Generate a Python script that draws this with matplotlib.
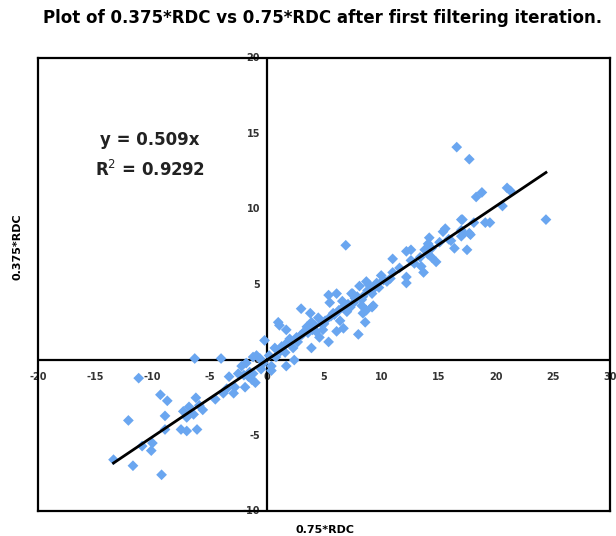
import matplotlib.pyplot as plt

# data (0.75*RDC vs 0.375*RDC)
x_rdc = [-13.4, -11.7, -9.2, -12.1, -10.9, -10.0, -10.1, -11.2, -9.3, -8.7,
         -8.9, -8.9, -7.5, -7.0, -6.1, -6.2, -6.8, -6.4, -7.0, -5.6,
         -6.3, -4.0, -4.5, -3.8, -3.3, -2.9, -2.8, -2.5, -2.2, -1.9,
         -1.6, -1.3, -1.0, -0.9, -0.6, -1.5, -1.8, -0.2, -7.3, -5.9,
         -1.2, -0.5, 0.4, 0.7, 0.8, 1.7, 1.6, 2.4, 1.7, -1.2,
         1.0, 1.1, 1.7, 3.0, 3.8, 5.4, 6.1, 5.5, 7.4, 8.1,
         8.9, 9.3, 9.6, 8.3, 8.7, 8.4, 9.2, 8.6, 8.0, 6.7,
         6.1, 5.4, 4.6, 3.9, 3.3, 4.2, 5.1, 5.9, 7.0, 2.7,
         2.3, 4.3, 4.9, 6.4, 7.3, 7.7, 3.9, 3.5, 0.4, 1.2,
         6.9, 11.0, 12.2, 12.6, 12.6, 13.5, 13.7, 12.2, 12.2, 11.0,
         10.0, 14.2, 14.1, 14.4, 13.8, 14.1, 14.8, 15.4, 15.6, 15.1,
         16.1, 16.4, 17.0, 17.2, 17.5, 17.7, 18.3, 8.7, 10.5, 7.5,
         8.4, 9.2, 9.3, 8.3, 13.4, 14.4, 16.6, 17.7, 18.8, 21.0,
         21.3, 20.6, 24.4, 19.1, 19.5, 18.1, 17.1, 17.0, 17.8, 17.0,
         2.0, 2.9, 4.5, 5.8, 6.6, 9.8, 10.8, 11.6, 12.9, 15.9,
         3.1, 4.0, 5.0, 6.3, 7.1, 7.9, 8.8, 9.5, 10.2, 0.2,
         -0.3, -2.0, -3.5, 1.3, 2.6, 3.6, 4.8, 5.6, 6.8, 7.6]
y_rdc = [-6.6, -7.0, -7.6, -4.0, -5.7, -5.5, -6.0, -1.2, -2.3, -2.7,
         -3.7, -4.6, -4.6, -4.7, -4.6, -2.5, -3.1, -3.6, -3.8, -3.3,
         0.1, 0.1, -2.6, -2.2, -1.1, -2.2, -1.8, -0.9, -0.4, -1.8,
         -1.1, -1.3, -1.5, 0.3, 0.1, -0.8, -0.2, 1.3, -3.4, -3.0,
         -0.9, -0.6, -0.4, 0.8, 0.2, 1.1, 0.5, 0.0, -0.4, 0.2,
         2.5, 2.3, 2.0, 3.4, 3.1, 4.3, 4.4, 3.8, 4.4, 4.9,
         5.0, 4.7, 5.1, 4.0, 3.3, 3.1, 3.5, 2.5, 1.7, 2.1,
         1.9, 1.2, 1.5, 0.8, 1.9, 2.3, 2.6, 3.0, 3.2, 1.2,
         0.8, 1.9, 2.0, 2.6, 3.5, 4.1, 2.5, 2.2, -0.7, 0.6,
         7.6, 6.7, 7.2, 7.3, 6.6, 6.2, 5.8, 5.5, 5.1, 5.8,
         5.6, 8.1, 7.7, 7.4, 7.3, 7.0, 6.5, 8.5, 8.7, 7.8,
         7.9, 7.4, 9.3, 8.4, 7.3, 8.4, 10.8, 5.2, 5.2, 4.4,
         4.2, 4.4, 3.6, 3.6, 6.8, 6.8, 14.1, 13.3, 11.1, 11.4,
         11.2, 10.2, 9.3, 9.1, 9.1, 9.1, 9.3, 8.6, 8.3, 8.2,
         1.4, 1.6, 2.8, 3.1, 3.9, 4.8, 5.4, 6.1, 6.4, 8.0,
         1.7, 2.0, 2.4, 3.3, 3.7, 4.2, 4.6, 4.9, 5.3, 0.3,
         -0.2, -1.0, -1.9, 0.9, 1.5, 1.8, 2.4, 2.9, 3.6, 3.8]

slope = 0.509
eq_text = "y = 0.509x"
r2_text = "R$^2$ = 0.9292"
x_ticks = [-20, -15, -10, -5, 0, 5, 10, 15, 20, 25, 30]
y_ticks = [-10, -5, 0, 5, 10, 15, 20]

fig = plt.figure(figsize=(6.16, 5.36), dpi=100)
ax = fig.add_axes([0.0617, 0.0466, 0.9286, 0.8451])
ax.set_xlim(-20, 30)
ax.set_ylim(-10, 20)
ax.set_xticks([])
ax.set_yticks([])
for s in ax.spines.values():
    s.set_linewidth(1.6)
    s.set_zorder(5)

# axes crossing at origin
ax.axhline(0, color="black", lw=1.6, zorder=2)
ax.axvline(0, color="black", lw=1.6, zorder=2)

# tick labels next to the crossing axes
for t in x_ticks:
    ax.text(t, -1.15, str(t), ha="center", va="center", fontsize=7,
            fontweight="bold", color="#333333", zorder=1)
for t in y_ticks:
    ax.text(-0.6, t, str(t), ha="right", va="center", fontsize=7,
            fontweight="bold", color="#333333", zorder=1)

ax.scatter(x_rdc, y_rdc, marker="D", s=30, color="#6aa6f0", edgecolors="none",
           zorder=3)

# trendline over the data range
x0, x1 = min(x_rdc), max(x_rdc)
ax.plot([x0, x1], [slope * x0, slope * x1], color="black", lw=2, zorder=4)

ax.text(-10.2, 14.6, eq_text, ha="center", va="center", fontsize=12,
        fontweight="bold", color="#222222")
ax.text(-10.2, 12.6, r2_text, ha="center", va="center", fontsize=12,
        fontweight="bold", color="#222222")

fig.text(0.524, 0.966, "Plot of 0.375*RDC vs 0.75*RDC after first filtering iteration.",
         ha="center", va="center", fontsize=12, fontweight="bold")
fig.text(0.527, 0.011, "0.75*RDC", ha="center", va="center", fontsize=8,
         fontweight="bold")
fig.text(0.028, 0.54, "0.375*RDC", ha="center", va="center", rotation=90,
         fontsize=8, fontweight="bold")

fig.savefig("out.png", dpi=100)
